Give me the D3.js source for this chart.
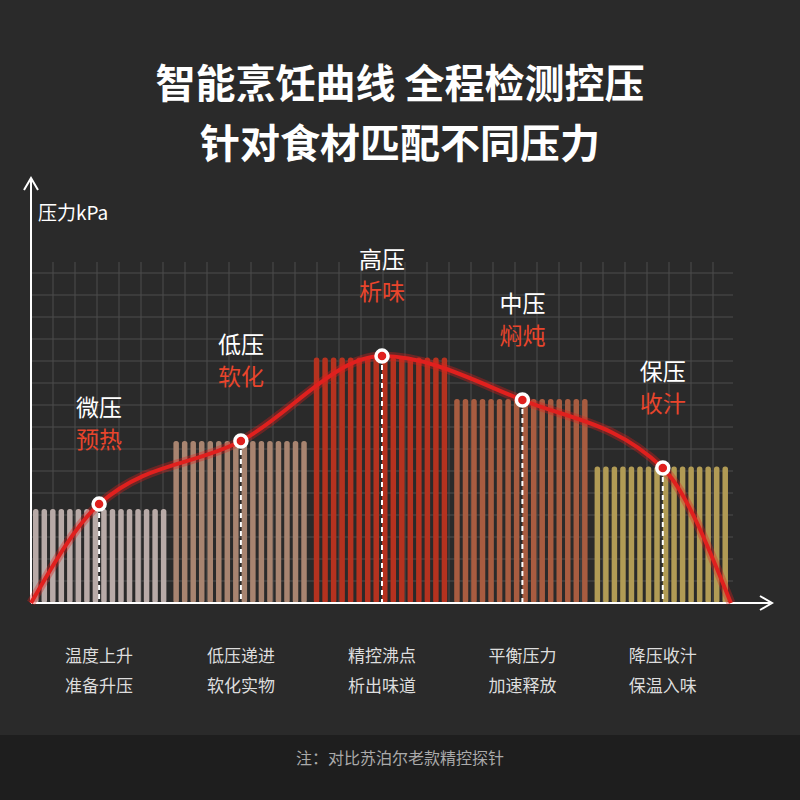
<!DOCTYPE html><html><head><meta charset="utf-8"><script src="https://cdn.jsdelivr.net/npm/d3@7"></script>
<style>body{margin:0;background:#2a2a2a}svg{display:block}</style></head><body><svg width="800" height="800"></svg>
<script>
const stages=["微压","低压","高压","中压","保压"];
const stageSub=["预热","软化","析味","焖炖","收汁"];
const stageDesc1=["温度上升","低压递进","精控沸点","平衡压力","降压收汁"];
const stageDesc2=["准备升压","软化实物","析出味道","加速释放","保温入味"];
const groupPressure=[27.6,47.5,72,59.8,40];
const groupColors=["#b8aaa7","#a88470","#b5321f","#a85c40","#b19b55"];
const barsPerGroup=16;
const curveX=[0,9.7,29.9,50,70,90,99.7];
const curveY=[0,29,47.5,72.4,59.5,39.6,0];
const markerIdx=[1,2,3,4,5];

const svg=d3.select("svg");
svg.append("rect").attr("width",800).attr("height",800).attr("fill","#2a2a2a");
svg.append("rect").attr("y",735).attr("width",800).attr("height",65).attr("fill","#1e1e1e");
const font="'Noto Sans CJK SC',sans-serif";
svg.append("text").attr("x",400).attr("y",98).attr("text-anchor","middle").attr("fill","#fff").attr("font-family",font).attr("font-weight",700).attr("font-size",40).text("智能烹饪曲线 全程检测控压");
svg.append("text").attr("x",400).attr("y",158).attr("text-anchor","middle").attr("fill","#fff").attr("font-family",font).attr("font-weight",700).attr("font-size",40).text("针对食材匹配不同压力");

const x=d3.scaleLinear().domain([0,100]).range([31,733]);
const y=d3.scaleLinear().domain([0,100]).range([603,262]);
const g=svg.append("g");
for(let v=31;v<=734;v+=22) g.append("line").attr("x1",v).attr("x2",v).attr("y1",262).attr("y2",603).attr("stroke","#4d4d4d");
for(let v=603;v>=262;v-=22) g.append("line").attr("x1",31).attr("x2",733).attr("y1",v).attr("y2",v).attr("stroke","#4d4d4d");
const gw=(x(100)-x(0))/5;
groupPressure.forEach((p,i)=>{
  const x0=x(0)+i*gw+2;
  for(let k=0;k<barsPerGroup;k++){
    const bx=x0+k*(gw-4)/barsPerGroup;
    svg.append("rect").attr("x",bx).attr("y",y(p)).attr("width",5.5).attr("height",y(0)-y(p)).attr("rx",2.5).attr("fill",groupColors[i]);
  }
});
markerIdx.forEach(i=>{
  svg.append("line").attr("x1",x(curveX[i])).attr("x2",x(curveX[i])).attr("y1",y(curveY[i])).attr("y2",y(0)).attr("stroke","#fff").attr("stroke-width",2).attr("stroke-dasharray","5,4");
});
svg.append("line").attr("x1",31).attr("x2",31).attr("y1",603).attr("y2",180).attr("stroke","#fff").attr("stroke-width",2);
svg.append("path").attr("d","M24,190 L31,178 L38,190").attr("fill","none").attr("stroke","#fff").attr("stroke-width",2);
svg.append("line").attr("x1",31).attr("x2",770).attr("y1",603).attr("y2",603).attr("stroke","#fff").attr("stroke-width",2);
svg.append("path").attr("d","M760,596 L772,603 L760,610").attr("fill","none").attr("stroke","#fff").attr("stroke-width",2);
svg.append("text").attr("x",38).attr("y",220).attr("fill","#fff").attr("font-family",font).attr("font-size",19).text("压力kPa");
const pts=curveX.map((v,i)=>[x(v),y(curveY[i])]);
const line=d3.line().curve(d3.curveMonotoneX);
svg.append("path").attr("d",line(pts)).attr("fill","none").attr("stroke","#e0201e").attr("stroke-opacity",0.35).attr("stroke-width",9);
svg.append("path").attr("d",line(pts)).attr("fill","none").attr("stroke","#e0201e").attr("stroke-width",4);
markerIdx.forEach(i=>{
  svg.append("circle").attr("cx",x(curveX[i])).attr("cy",y(curveY[i])).attr("r",6).attr("fill","#e0201e").attr("stroke","#fff").attr("stroke-width",3.5);
});
markerIdx.forEach((i,j)=>{
  const cx=x(curveX[i]), cy=y(curveY[i]);
  svg.append("text").attr("x",cx).attr("y",cy-88).attr("text-anchor","middle").attr("fill","#fff").attr("font-family",font).attr("font-size",23).text(stages[j]);
  svg.append("text").attr("x",cx).attr("y",cy-56).attr("text-anchor","middle").attr("fill","#e8452c").attr("font-family",font).attr("font-size",23).text(stageSub[j]);
  svg.append("text").attr("x",cx).attr("y",662).attr("text-anchor","middle").attr("fill","#ddd").attr("font-family",font).attr("font-size",17).text(stageDesc1[j]);
  svg.append("text").attr("x",cx).attr("y",692).attr("text-anchor","middle").attr("fill","#ddd").attr("font-family",font).attr("font-size",17).text(stageDesc2[j]);
});
svg.append("text").attr("x",400).attr("y",764).attr("text-anchor","middle").attr("fill","#aaa").attr("font-family",font).attr("font-size",16).text("注：对比苏泊尔老款精控探针");
</script></body></html>
